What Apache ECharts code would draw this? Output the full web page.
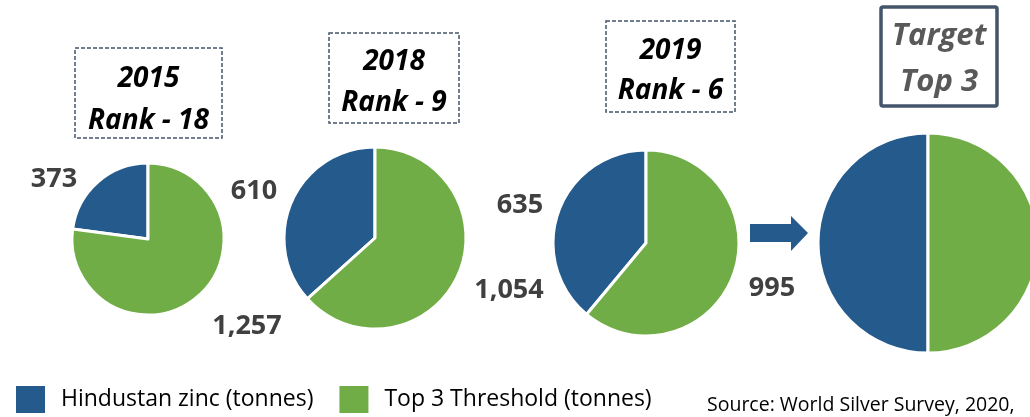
<!DOCTYPE html>
<html>
<head>
<meta charset="utf-8">
<script src="https://cdn.jsdelivr.net/npm/echarts@6/dist/echarts.min.js"></script>
<style>
  html, body { margin: 0; padding: 0; background: #fff; }
  #chart { width: 1030px; height: 417px; }
</style>
</head>
<body>
<div id="chart"></div>
<script>
var seriesNames = ['Hindustan zinc (tonnes)', 'Top 3 Threshold (tonnes)']
var years = ['2015', '2018', '2019', 'Target']
var ranks = ['Rank - 18', 'Rank - 9', 'Rank - 6', 'Top 3']
var hzValues = [373, 610, 635, 995]
var thresholdValues = [1257, 1054, 995, 995]

// pie placement (px) and where each value label sits
var pieCenters = [[148, 239], [375, 238], [646, 243], [928, 243]]
var pieRadius = [76, 91, 93, 110]
var labelPos = [
  [[54, 179], [247, 326]],
  [[254, 191], [509, 290]],
  [[520, 205], [772, 288]],
  null
]

var blue = '#255a8c'
var green = '#70ad47'

;(function () {
  var myChart = echarts.init(document.getElementById('chart'))

  var series = years.map(function (y, i) {
    var isTarget = i === 3
    return {
      type: 'pie',
      name: y,
      center: pieCenters[i],
      radius: pieRadius[i],
      clockwise: false,
      startAngle: 90,
      animation: false,
      silent: true,
      itemStyle: { borderColor: '#fff', borderWidth: 3 },
      label: {
        show: !isTarget,
        position: 'inside',
        color: '#404040',
        fontFamily: 'Open Sans',
        fontWeight: 'bold',
        fontSize: 27,
        formatter: function (p) { return p.value.toLocaleString('en-US') }
      },
      labelLine: { show: false },
      labelLayout: function (p) {
        var pos = labelPos[i]
        if (!pos) return {}
        return { x: pos[p.dataIndex][0], y: pos[p.dataIndex][1], align: 'center', verticalAlign: 'middle' }
      },
      data: [
        { name: seriesNames[0], value: hzValues[i], itemStyle: { color: blue } },
        { name: seriesNames[1], value: thresholdValues[i], itemStyle: { color: green } }
      ]
    }
  })

  // title boxes over each pie
  var boxes = [
    { x: 75, y: 48, w: 147, h: 90, t1: 31, t2: 73, size: 28, dashed: true },
    { x: 329, y: 33, w: 130, h: 90, t1: 29, t2: 70, size: 28, dashed: true },
    { x: 606, y: 21, w: 129, h: 91, t1: 30, t2: 70, size: 28, dashed: true },
    { x: 881, y: 7, w: 116, h: 99, t1: 29, t2: 75, size: 31, dashed: false }
  ]
  var graphics = []
  boxes.forEach(function (b, i) {
    var txtColor = b.dashed ? '#000' : '#595959'
    var font = 'italic bold ' + b.size + 'px "Open Sans"'
    graphics.push({
      type: 'rect',
      shape: { x: b.x, y: b.y, width: b.w, height: b.h, r: b.dashed ? 0 : 2 },
      style: {
        fill: '#fff',
        stroke: '#44546a',
        lineWidth: b.dashed ? 1.5 : 3.5,
        lineDash: b.dashed ? [4, 2] : null
      },
      silent: true
    })
    graphics.push({
      type: 'text',
      x: b.x + b.w / 2,
      y: b.y + b.t1,
      style: { text: years[i], fill: txtColor, align: 'center', verticalAlign: 'middle', font: font }
    })
    graphics.push({
      type: 'text',
      x: b.x + b.w / 2,
      y: b.y + b.t2,
      style: { text: ranks[i], fill: txtColor, align: 'center', verticalAlign: 'middle', font: font }
    })
  })
  // arrow between 2019 and target
  graphics.push({
    type: 'polygon',
    shape: { points: [[750, 224], [791, 224], [791, 216], [808, 233], [791, 251], [791, 242], [750, 242]] },
    style: { fill: blue },
    silent: true
  })
  graphics.push({
    type: 'text',
    x: 707,
    y: 405,
    style: {
      text: 'Source: World Silver Survey, 2020,', fill: '#000', verticalAlign: 'middle',
      font: '19.5px "Open Sans"'
    }
  })

  var option = {
    backgroundColor: '#fff',
    legend: {
      left: 9,
      top: 379,
      itemWidth: 31,
      itemHeight: 29,
      itemGap: 24,
      icon: 'rect',
      selectedMode: false,
      data: seriesNames,
      textStyle: {
        fontFamily: 'Open Sans',
        fontSize: 23,
        color: '#000',
        padding: [0, 0, 0, 10]
      }
    },
    graphic: graphics,
    series: series
  }
  myChart.setOption(option)
})()
</script>
</body>
</html>
